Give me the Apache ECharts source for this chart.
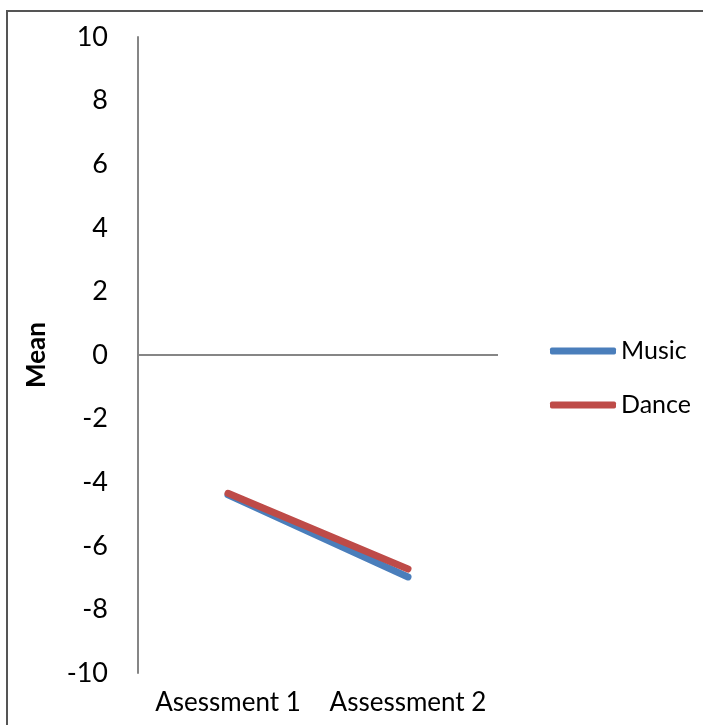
<!DOCTYPE html>
<html>
<head>
<meta charset="utf-8">
<script src="https://cdn.jsdelivr.net/npm/echarts@6/dist/echarts.min.js"></script>
<style>
  body { margin: 0; background: #fff; }
  #chart { width: 703px; height: 725px; }
</style>
</head>
<body>
<div id="chart"></div>
<script>
const categories = ['Asessment 1', 'Assessment 2'];
const musicValues = [-4.4, -6.98];
const danceValues = [-4.35, -6.73];
const yTicks = { min: -10, max: 10, interval: 2 };

const chart = echarts.init(document.getElementById('chart'));
const font = 'Lato, "Open Sans", sans-serif';

chart.setOption({
  animation: false,
  backgroundColor: '#fff',
  grid: { left: 138, right: 205, top: 37, bottom: 52 },
  graphic: [{
    type: 'rect',
    shape: { x: 7, y: 11, width: 720, height: 740 },
    style: { fill: 'none', stroke: '#555', lineWidth: 2 },
    silent: true
  }],
  legend: {
    orient: 'vertical',
    left: 545,
    top: 333,
    itemWidth: 66,
    itemHeight: 7,
    itemGap: 28,
    icon: 'roundRect',
    textStyle: { fontFamily: font, fontSize: 25, color: '#000', lineHeight: 26 },
    data: ['Music', 'Dance']
  },
  xAxis: {
    type: 'category',
    data: categories,
    boundaryGap: true,
    axisLine: { show: false },
    axisTick: { show: false },
    axisLabel: { interval: 0, fontFamily: font, fontSize: 26, color: '#000', margin: 17 }
  },
  yAxis: {
    type: 'value',
    min: yTicks.min,
    max: yTicks.max,
    interval: yTicks.interval,
    name: 'Mean',
    nameLocation: 'middle',
    nameGap: 88,
    nameRotate: 90,
    nameTextStyle: { fontFamily: font, fontSize: 26, fontWeight: 'bold', color: '#000' },
    axisLine: { show: true, lineStyle: { color: '#868686', width: 2 } },
    axisTick: { show: false },
    splitLine: { show: false },
    axisLabel: { fontFamily: font, fontSize: 27, color: '#000', margin: 30 }
  },
  series: [
    {
      name: 'Music',
      type: 'line',
      data: musicValues,
      showSymbol: false,
      lineStyle: { color: '#4A7EBB', width: 7, cap: 'round' },
      itemStyle: { color: '#4A7EBB' },
      markLine: {
        silent: true,
        symbol: 'none',
        label: { show: false },
        lineStyle: { color: '#868686', width: 2, type: 'solid' },
        data: [{ yAxis: 0 }]
      }
    },
    {
      name: 'Dance',
      type: 'line',
      data: danceValues,
      showSymbol: false,
      lineStyle: { color: '#BE4B48', width: 7, cap: 'round' },
      itemStyle: { color: '#BE4B48' }
    }
  ]
});
</script>
</body>
</html>
